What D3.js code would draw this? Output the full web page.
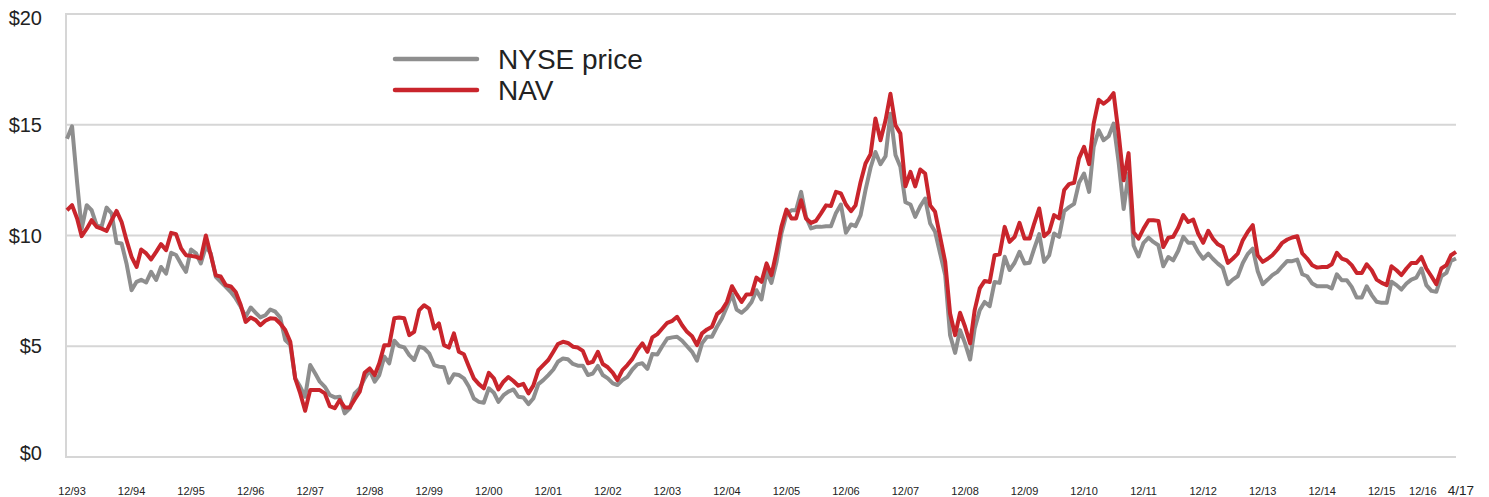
<!DOCTYPE html>
<html>
<head>
<meta charset="utf-8">
<script src="https://cdn.jsdelivr.net/npm/d3@7"></script>
<style>
  body { margin: 0; background: #fff; }
  svg { display: block; font-family: "Liberation Sans", Arial, sans-serif; }
</style>
</head>
<body>
<div id="chart"></div>
<script>
// monthly closes, 12/93 .. 4/17
const firstMonth = new Date(1993, 11, 1);

const nysePrice = [
  14.37, 14.93, 12.4, 10.3, 11.37, 11.14, 10.46, 10.39, 11.26, 10.99, 9.67, 9.64,
  8.74, 7.53, 7.91, 8.0, 7.88, 8.36, 7.99, 8.58, 8.28, 9.22, 9.12, 8.71,
  8.36, 9.37, 9.19, 8.74, 9.5, 9.19, 8.13, 7.91, 7.68, 7.45, 7.16, 6.78,
  6.33, 6.75, 6.51, 6.3, 6.4, 6.66, 6.56, 6.3, 5.28, 5.06, 3.55, 3.17,
  2.72, 4.15, 3.77, 3.4, 3.17, 2.8, 2.69, 2.72, 1.97, 2.2, 2.87, 3.1,
  3.55, 3.92, 3.4, 3.7, 4.53, 4.23, 5.25, 5.01, 4.95, 4.6, 4.38, 4.98,
  4.91, 4.68, 4.15, 4.08, 4.05, 3.35, 3.74, 3.7, 3.55, 3.17, 2.64, 2.49,
  2.45, 3.1, 2.9, 2.49, 2.79, 2.95, 3.05, 2.72, 2.69, 2.39, 2.64, 3.29,
  3.47, 3.7, 3.95, 4.3, 4.45, 4.41, 4.2, 4.12, 4.12, 3.7, 3.77, 4.11,
  3.7, 3.55, 3.32, 3.25, 3.47, 3.62, 3.95, 4.18, 4.23, 3.98, 4.65, 4.63,
  5.0, 5.35, 5.4, 5.43, 5.25, 5.0, 4.75, 4.35, 5.13, 5.43, 5.43, 5.88,
  6.25, 6.78, 7.35, 6.66, 6.51, 6.7, 7.0, 7.53, 7.11, 8.36, 7.86, 8.8,
  10.09, 10.96, 11.14, 11.14, 11.97, 10.84, 10.32, 10.39, 10.39, 10.42, 10.42, 11.02,
  11.4, 10.12, 10.5, 10.42, 10.92, 12.05, 13.06, 13.77, 13.22, 13.58, 15.5, 13.63,
  13.1, 11.5, 11.4, 10.84, 11.32, 11.67, 10.54, 10.17, 9.19, 8.21, 5.5, 4.7,
  5.73, 5.13, 4.4, 5.8, 6.63, 7.0, 6.81, 7.9, 7.86, 9.04, 8.44, 8.77,
  9.26, 8.74, 8.77, 9.41, 10.06, 8.81, 9.11, 10.09, 9.94, 11.1, 11.28, 11.43,
  12.38, 12.8, 11.97, 14.0, 14.75, 14.3, 14.48, 15.05, 13.32, 11.2, 12.8, 9.55,
  9.05, 9.67, 9.9, 9.71, 9.56, 8.61, 9.03, 8.88, 9.31, 9.94, 9.67, 9.67,
  9.26, 8.95, 9.18, 8.95, 8.73, 8.55, 7.8, 8.01, 8.16, 8.76, 9.16, 9.41,
  8.4, 7.8, 8.01, 8.21, 8.36, 8.61, 8.85, 8.84, 8.91, 8.25, 8.16, 7.83,
  7.71, 7.71, 7.71, 7.61, 8.25, 7.98, 7.98, 7.68, 7.2, 7.2, 7.71, 7.31,
  7.01, 6.96, 6.96, 7.91, 7.76, 7.56, 7.83, 8.01, 8.1, 8.51, 7.76, 7.5,
  7.46, 8.16, 8.31, 8.85, 8.96
];

const nav = [
  11.14, 11.37, 10.77, 9.97, 10.31, 10.69, 10.39, 10.31, 10.21, 10.69, 11.11, 10.61,
  9.79, 9.04, 8.58, 9.37, 9.19, 8.92, 9.26, 9.61, 9.34, 10.12, 10.06, 9.42,
  9.11, 9.08, 9.04, 8.96, 10.0, 9.12, 8.2, 8.15, 7.76, 7.7, 7.45, 6.86,
  6.1, 6.3, 6.18, 5.95, 6.15, 6.26, 6.24, 6.03, 5.73, 5.2, 3.55, 2.87,
  2.09, 3.02, 3.02, 3.02, 2.87, 2.3, 2.2, 2.57, 2.24, 2.24, 2.6, 2.95,
  3.8, 4.0, 3.7, 4.23, 5.05, 5.05, 6.26, 6.3, 6.26, 5.5, 5.65, 6.63,
  6.85, 6.7, 5.8, 6.03, 5.05, 4.94, 5.58, 4.75, 4.64, 4.07, 3.55, 3.29,
  3.1, 3.8, 3.55, 3.05, 3.4, 3.61, 3.43, 3.22, 3.3, 2.87, 3.22, 3.92,
  4.15, 4.38, 4.75, 5.1, 5.2, 5.15, 4.98, 4.94, 4.79, 4.23, 4.3, 4.75,
  4.2, 4.05, 3.8, 3.47, 3.92, 4.15, 4.43, 4.83, 5.13, 4.75, 5.4, 5.55,
  5.8, 6.06, 6.15, 6.33, 5.95, 5.65, 5.45, 5.05, 5.58, 5.76, 5.88, 6.45,
  6.63, 7.0, 7.71, 7.35, 7.0, 7.34, 7.35, 8.1, 7.91, 8.74, 8.21, 9.26,
  10.39, 11.17, 10.77, 10.77, 11.59, 10.77, 10.57, 10.66, 11.0, 11.36, 11.33, 11.97,
  11.9, 11.4, 11.1, 11.36, 12.42, 13.25, 13.67, 15.28, 14.3, 15.2, 16.4, 14.98,
  14.6, 12.22, 12.87, 12.22, 12.98, 12.8, 11.36, 11.07, 9.94, 8.81, 6.48, 5.5,
  6.51, 5.88, 5.13, 6.63, 7.61, 7.95, 7.9, 9.11, 9.15, 10.39, 9.71, 9.94,
  10.57, 9.86, 9.86, 10.54, 11.22, 9.97, 10.17, 10.92, 10.77, 12.05, 12.32, 12.38,
  13.48, 14.0, 13.22, 15.05, 16.13, 15.95, 16.13, 16.43, 14.6, 12.49, 13.72, 10.15,
  9.86, 10.31, 10.69, 10.69, 10.66, 9.48, 9.9, 9.94, 10.36, 10.92, 10.61, 10.72,
  10.09, 9.67, 10.21, 9.86, 9.6, 9.48, 8.76, 8.95, 9.18, 9.79, 10.16, 10.47,
  9.11, 8.81, 8.95, 9.11, 9.37, 9.67, 9.82, 9.91, 9.97, 9.19, 8.96, 8.66,
  8.55, 8.58, 8.58, 8.7, 9.22, 8.96, 8.88, 8.66, 8.31, 8.31, 8.7, 8.43,
  8.01, 7.86, 7.76, 8.61, 8.43, 8.21, 8.51, 8.76, 8.76, 9.03, 8.51, 8.16,
  7.8, 8.51, 8.66, 9.11, 9.26
];

const yTicks = [0, 5, 10, 15, 20];
const xTickLabels = ["12/93", "12/94", "12/95", "12/96", "12/97", "12/98", "12/99", "12/00",
  "12/01", "12/02", "12/03", "12/04", "12/05", "12/06", "12/07", "12/08", "12/09", "12/10",
  "12/11", "12/12", "12/13", "12/14", "12/15", "12/16", "4/17"];
const seriesNames = ["NYSE price", "NAV"];
const seriesColors = ["#8e8e8e", "#c9252c"];

const width = 1489, height = 497;
const margin = { left: 67, right: 33, top: 14, bottom: 40 };

const months = nysePrice.map((_, i) => d3.timeMonth.offset(firstMonth, i));

const svg = d3.select("#chart").append("svg")
  .attr("width", width)
  .attr("height", height);

const x = d3.scaleTime()
  .domain(d3.extent(months))
  .range([margin.left, width - margin.right]);

const y = d3.scaleLinear()
  .domain([0, 20])
  .range([height - margin.bottom, margin.top]);

// gridlines
svg.append("g")
  .selectAll("line")
  .data(yTicks)
  .join("line")
  .attr("x1", margin.left - 1)
  .attr("x2", width - margin.right)
  .attr("y1", d => y(d))
  .attr("y2", d => y(d))
  .attr("stroke", "#d6d6d6")
  .attr("stroke-width", 2);

svg.append("line")
  .attr("x1", margin.left - 1)
  .attr("x2", margin.left - 1)
  .attr("y1", y(20) - 1)
  .attr("y2", y(0) + 1)
  .attr("stroke", "#d6d6d6")
  .attr("stroke-width", 2);

// y labels, end ones nudged inside
svg.append("g")
  .selectAll("text")
  .data(yTicks)
  .join("text")
  .attr("x", 42)
  .attr("y", d => Math.min(Math.max(y(d), y(20) + 4), y(0) - 4))
  .attr("dy", "0.35em")
  .attr("text-anchor", "end")
  .attr("font-size", 20)
  .attr("fill", "#222")
  .text(d => "$" + d);

// x labels: one per December, plus the last month
const labelDates = xTickLabels.map(s => {
  const [m, yy] = s.split("/").map(Number);
  return new Date(2000 + yy - (yy > 50 ? 100 : 0), m - 1, 1);
});
const labelX = labelDates.map(d => x(d3.timeMonth.offset(d, 1)));
for (let i = labelX.length - 2; i >= 0; i--) {
  if (labelX[i + 1] - labelX[i] < 38) labelX[i] = labelX[i + 1] - 38;
}

svg.append("g")
  .selectAll("text")
  .data(xTickLabels)
  .join("text")
  .attr("x", (d, i) => labelX[i])
  .attr("y", 494.5)
  .attr("text-anchor", "middle")
  .attr("font-size", (d, i) => i === xTickLabels.length - 1 ? 13.5 : 11)
  .attr("fill", "#222")
  .text(d => d);

// series
const line = d3.line()
  .x((d, i) => x(months[i]))
  .y(d => y(d));

[nysePrice, nav].forEach((values, k) => {
  svg.append("path")
    .datum(values)
    .attr("fill", "none")
    .attr("stroke", seriesColors[k])
    .attr("stroke-width", 4)
    .attr("stroke-linejoin", "round")
    .attr("d", line);
});

// legend
const legend = svg.append("g").attr("transform", "translate(395,59)");
seriesNames.forEach((name, k) => {
  const row = legend.append("g").attr("transform", `translate(0,${k * 31})`);
  row.append("line")
    .attr("x1", 0).attr("x2", 82)
    .attr("stroke", seriesColors[k])
    .attr("stroke-width", 4.5)
    .attr("stroke-linecap", "round");
  row.append("text")
    .attr("x", 103)
    .attr("y", 0)
    .attr("dy", "0.35em")
    .attr("font-size", 28)
    .attr("fill", "#222")
    .text(name);
});
</script>
</body>
</html>
